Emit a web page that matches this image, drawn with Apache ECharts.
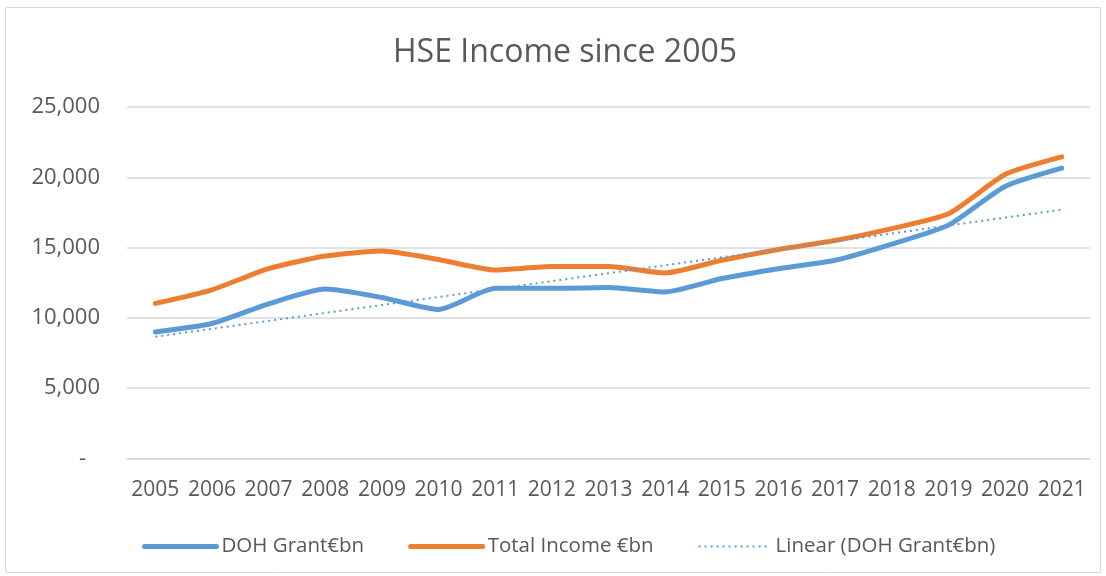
<!DOCTYPE html>
<html>
<head>
<meta charset="utf-8">
<script src="https://cdn.jsdelivr.net/npm/echarts@6/dist/echarts.min.js"></script>
<style>
  html, body { margin: 0; padding: 0; background: #ffffff; }
  #chart { width: 1106px; height: 576px; }
</style>
</head>
<body>
<div id="chart"></div>
<script>
const years = ['2005','2006','2007','2008','2009','2010','2011','2012','2013','2014','2015','2016','2017','2018','2019','2020','2021'];
const dohGrant = [9000, 9600, 11000, 12050, 11450, 10600, 12100, 12100, 12170, 11850, 12800, 13500, 14100, 15250, 16600, 19350, 20650];
const totalIncome = [11030, 12000, 13500, 14400, 14750, 14150, 13400, 13650, 13650, 13200, 14100, 14870, 15500, 16350, 17400, 20200, 21450];
// Trendline endpoints (first and last year)
const linearDoh = [8660, null, null, null, null, null, null, null, null, null, null, null, null, null, null, null, 17700];
const yTicks = [0, 5000, 10000, 15000, 20000, 25000];

const FONT = '"Open Sans", "Liberation Sans", sans-serif';
const TXT = '#595959';
const BLUE = '#5B9BD5';
const ORANGE = '#ED7D31';

const chart = echarts.init(document.getElementById('chart'), null, { renderer: 'canvas' });
chart.setOption({
  backgroundColor: '#ffffff',
  animation: false,
  title: {
    text: 'HSE Income since 2005',
    left: 388,
    top: 32,
    textStyle: { fontFamily: FONT, fontSize: 32, fontWeight: 'normal', color: TXT }
  },
  graphic: [{
    type: 'rect',
    shape: { x: 5.5, y: 7.5, width: 1095, height: 565 },
    style: { fill: 'none', stroke: '#D9D9D9', lineWidth: 1 },
    silent: true
  }],
  legend: {
    left: 137,
    top: 531,
    itemWidth: 72,
    itemHeight: 14,
    itemGap: 44,
    textStyle: { fontFamily: FONT, fontSize: 20.5, color: TXT },
    data: [
      { name: 'DOH Grant€bn', itemStyle: { opacity: 0 }, lineStyle: { width: 5, color: BLUE } },
      { name: 'Total Income €bn', itemStyle: { opacity: 0 }, lineStyle: { width: 5, color: ORANGE } },
      { name: 'Linear (DOH Grant€bn)', itemStyle: { opacity: 0 }, lineStyle: { width: 2, color: BLUE, type: [2, 4] } }
    ]
  },
  grid: { left: 127, right: 16, top: 107, bottom: 576 - 458.5, containLabel: false },
  xAxis: {
    type: 'category',
    data: years,
    boundaryGap: true,
    axisLine: { show: true, lineStyle: { color: '#D9D9D9', width: 1.5 } },
    axisTick: { show: false },
    axisLabel: { fontFamily: FONT, fontSize: 21, color: TXT, margin: 21, interval: 0 }
  },
  yAxis: {
    type: 'value',
    min: yTicks[0],
    max: yTicks[yTicks.length - 1],
    interval: yTicks[1] - yTicks[0],
    axisLine: { show: false },
    axisTick: { show: false },
    splitLine: { lineStyle: { color: '#D9D9D9', width: 1.5 } },
    axisLabel: {
      fontFamily: FONT, fontSize: 22, color: TXT, margin: 27,
      formatter: function (v) { return v === 0 ? '{d|-}' : v.toLocaleString('en-US'); },
      rich: { d: { fontFamily: FONT, fontSize: 22, color: TXT, padding: [0, 14, 0, 0] } }
    }
  },
  series: [
    {
      name: 'DOH Grant€bn',
      type: 'line',
      data: dohGrant,
      smooth: 0.2,
      symbol: 'none',
      lineStyle: { color: BLUE, width: 5, cap: 'round', join: 'round' },
      itemStyle: { color: BLUE },
      z: 3
    },
    {
      name: 'Total Income €bn',
      type: 'line',
      data: totalIncome,
      smooth: 0.2,
      symbol: 'none',
      lineStyle: { color: ORANGE, width: 5, cap: 'round', join: 'round' },
      itemStyle: { color: ORANGE },
      z: 2
    },
    {
      name: 'Linear (DOH Grant€bn)',
      type: 'line',
      data: linearDoh,
      connectNulls: true,
      symbol: 'none',
      lineStyle: { color: BLUE, width: 2, type: [2, 4] },
      itemStyle: { color: BLUE },
      z: 4
    }
  ]
});
</script>
</body>
</html>
